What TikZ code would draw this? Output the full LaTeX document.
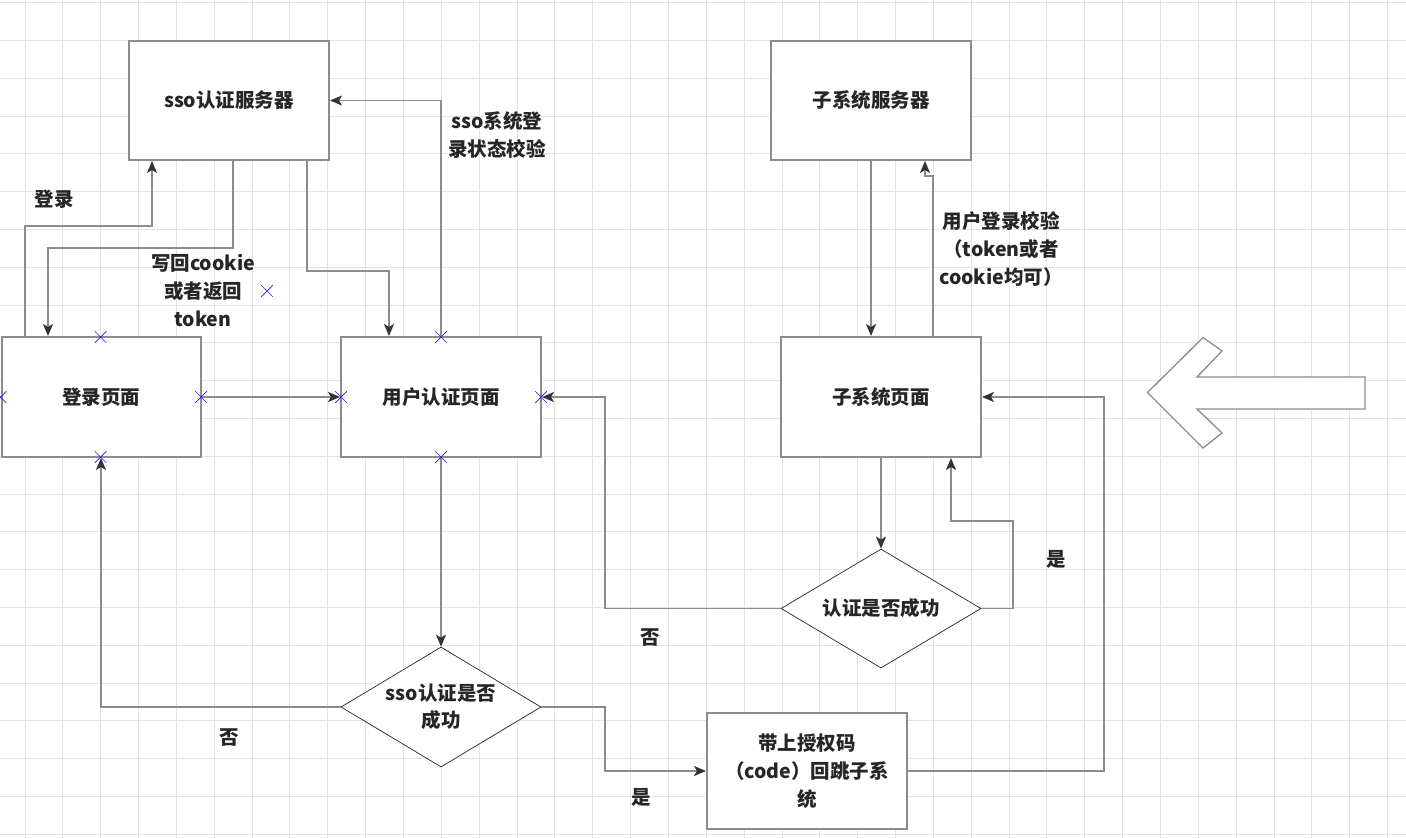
\documentclass[tikz,border=0pt]{standalone}
\usepackage{fontspec}
\setmainfont{Noto Sans CJK SC}
\usetikzlibrary{arrows.meta,positioning,calc,shapes.geometric,shapes.misc}
\definecolor{EdgeGray}{HTML}{8C8C8C}
\definecolor{TipDark}{HTML}{333333}
\definecolor{InkDark}{HTML}{262626}
\definecolor{GridGray}{HTML}{E3E3E3}
\definecolor{PinBlue}{HTML}{2020F0}

\begin{document}
\begin{tikzpicture}[x=1pt,y=-1pt,
  box/.style={draw=EdgeGray,line width=2pt,fill=white,minimum width=200pt,
    minimum height=120pt,align=center,text=InkDark,
    font=\fontsize{19.5}{28}\selectfont\bfseries},
  check/.style={diamond,draw=InkDark,line width=0.7pt,fill=white,minimum width=200pt,
    minimum height=119pt,inner sep=0pt,aspect=1.67,align=center,text=InkDark,
    font=\fontsize{19.5}{27}\selectfont\bfseries},
  lbl/.style={align=center,text=InkDark,font=\fontsize{19.5}{28}\selectfont\bfseries},
  flow/.style={-{Stealth[length=12pt,width=10pt,inset=3pt,color=TipDark]},
    line width=1.8pt,draw=EdgeGray},
  pin/.style={cross out,draw=PinBlue,line width=0.7pt,minimum size=11pt,inner sep=0pt}]
\useasboundingbox (0,0) rectangle (1406,838);
\fill[white] (0,0) rectangle (1406,838);
% grid
\foreach \i in {0,...,36}
  \draw[GridGray,line width=1pt] (25+37.85*\i,0) -- (25+37.85*\i,838);
\foreach \j in {0,...,22}
  \draw[GridGray,line width=1pt] (0,2.7+37.8*\j) -- (1406,2.7+37.8*\j);

% boxes
\node[box,minimum height=119pt] (ssosrv) at (229,100.5) {sso认证服务器};
\node[box,minimum width=199pt] (login) at (101,397) {登录页面};
\node[box] (authpage) at (441,397) {用户认证页面};
\node[box,minimum height=119pt] (subsrv) at (871,100.5) {子系统服务器};
\node[box] (subpage) at (881,397) {子系统页面};
\node[box,minimum height=116pt] (redirect) at (807,771) {带上授权码\\（code）回跳子系\\统};
\node[check,minimum height=120pt] (ssochk) at (441,707) {sso认证是否\\成功};
\node[check] (subchk) at (881,608.5) {认证是否成功};

% connectors
\draw[flow] ($(login.north)+(-76,0)$) |- ($(ssosrv.south)+(-77,65)$)
  -- ($(ssosrv.south)+(-77,0)$);
\draw[flow] ($(ssosrv.south)+(4,0)$) |- ($(login.north)+(-53,-88)$)
  -- ($(login.north)+(-53,0)$);
\draw[flow] ($(ssosrv.south)+(78,0)$) |- ($(authpage.north)+(-52,-65)$)
  -- ($(authpage.north)+(-52,0)$);
\draw[flow] (authpage.north) |- (ssosrv.east);
\draw[flow] (login.east) -- (authpage.west);
\draw[flow] (authpage.south) -- (ssochk.north);
\draw[flow] (ssochk.west) -| (login.south);
\draw[flow] (ssochk.east) -- ++(64,0) |- (redirect.west);
\draw[flow] (redirect.east) -- ++(196,0) |- (subpage.east);
\draw[flow] (subsrv.south) -- (subsrv.south |- subpage.north);
\draw[flow] ($(subpage.north)+(52,0)$) -- ++(0,-160) -| ($(subsrv.south)+(54,0)$);
\draw[flow] (subpage.south) -- (subchk.north);
\draw[flow] (subchk.east) -- ++(32,0) |- ($(subpage.south)+(70,63)$)
  -- ($(subpage.south)+(70,0)$);
\draw[flow] (subchk.west) -- ++(-176,0) |- (authpage.east);

% labels
\node[lbl] (lbllogin) at (54,199) {登录};
\node[lbl] (lblback) at (203,291) {写回cookie\\或者返回\\token};
\node[lbl] (lblstate) at (497,135) {sso系统登\\录状态校验};
\node[lbl] (lblverify) at (1001,249) {用户登录校验\\（token或者\\cookie均可）};
\node[lbl] (lblno1) at (229,738) {否};
\node[lbl] (lblyes1) at (641,797) {是};
\node[lbl] (lblno2) at (650,638) {否};
\node[lbl] (lblyes2) at (1056,559) {是};

% connection pins
\foreach \p in {(100.5,337),(0.5,397),(201,397),(100.5,457),(341,397),(441,337),
  (541,397),(441,457),(267,291)}
  \node[pin] at \p {};

% big arrow
\draw[EdgeGray,line width=1.3pt,fill=white,line join=miter]
  (1147.5,392.5) -- (1203,337.5) -- (1222,351) -- (1197,377) -- (1365,377)
  -- (1365,409) -- (1197,409) -- (1222,433) -- (1203,448) -- cycle;
\end{tikzpicture}
\end{document}
